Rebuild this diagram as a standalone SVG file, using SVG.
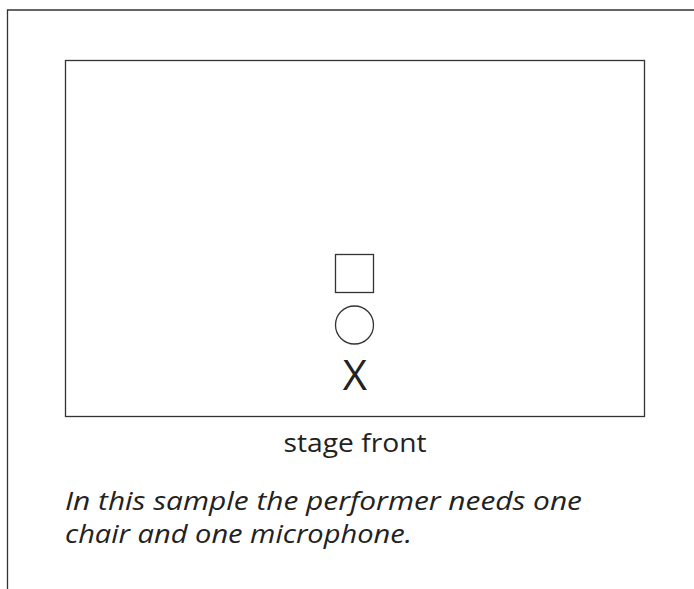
<svg xmlns="http://www.w3.org/2000/svg" width="694" height="589" viewBox="0 0 694 589">
<style>
.ln{fill:none;stroke:#333;stroke-width:1.3}
.t{font-family:"Open Sans","Liberation Sans",sans-serif;fill:#222}
</style>
<rect width="694" height="589" fill="#fff"/>
<g id="frame"><path class="ln" d="M694 10 H7.5 V589"/></g>
<g id="stage"><rect class="ln" x="65.5" y="60.5" width="579" height="356"/></g>
<g id="chair"><rect class="ln" x="335.5" y="254.5" width="38" height="38"/></g>
<g id="microphone"><circle class="ln" cx="354.5" cy="325" r="19"/></g>
<g id="performer"><text class="t" x="355" y="389.5" font-size="42" text-anchor="middle">X</text></g>
<g id="label"><text class="t" x="283.5" y="451.5" font-size="26" textLength="143" lengthAdjust="spacingAndGlyphs">stage front</text></g>
<g id="note"><text class="t" x="65" y="510" font-size="25" font-style="italic" textLength="517" lengthAdjust="spacingAndGlyphs">In this sample the performer needs one</text>
<text class="t" x="65" y="543" font-size="25" font-style="italic" textLength="347" lengthAdjust="spacingAndGlyphs">chair and one microphone.</text></g>
<g id="connectors"/>
</svg>
